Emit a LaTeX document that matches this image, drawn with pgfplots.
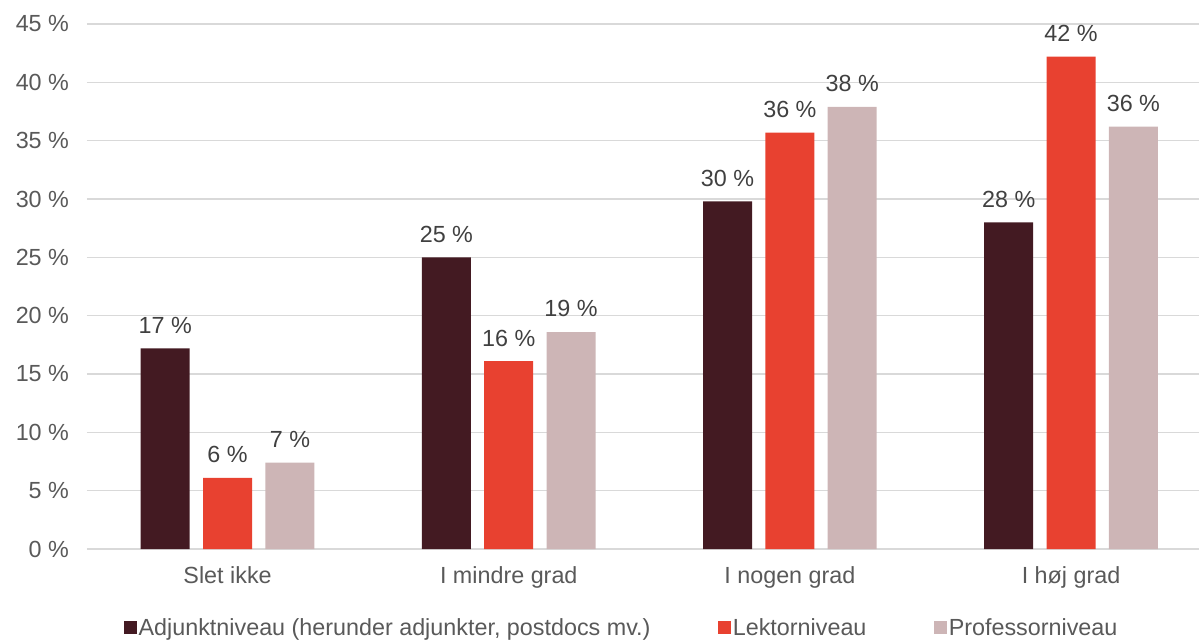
\documentclass[border=0pt]{standalone}
\usepackage{pgfplots}
\pgfplotsset{compat=1.18}
\usepackage{fontspec}
\setmainfont{Liberation Sans}
\definecolor{adjunkt}{HTML}{431A22}
\definecolor{lektor}{HTML}{E84130}
\definecolor{professor}{HTML}{CDB5B6}
\definecolor{gridgrey}{HTML}{D9D9D9}
\definecolor{ticktext}{HTML}{595959}
\definecolor{labeltext}{HTML}{404040}
\begin{document}
\begin{tikzpicture}
\begin{axis}[
    scale only axis,
    width=834pt, height=393.75pt,
    ymin=0, ymax=45,
    xmin=-0.5, xmax=3.455,
    ybar=10pt,
    bar width=36.75pt,
    axis line style={draw=none},
    major tick length=0pt,
    ymajorgrids,
    grid style={color=gridgrey, line width=1.1pt},
    ytick={0,5,...,45},
    yticklabels={0 \%,5 \%,10 \%,15 \%,20 \%,25 \%,30 \%,35 \%,40 \%,45 \%},
    xtick={0,1,2,3},
    xticklabels={Slet ikke, I mindre grad, I nogen grad, I høj grad},
    ticklabel style={font=\fontsize{17.5}{21}\selectfont, text=ticktext},
    yticklabel style={xshift=-10pt},
    xticklabel style={yshift=-10pt},
    /pgf/number format/assume math mode=true,
    nodes near coords={\pgfmathprintnumber[fixed,precision=0]{\pgfplotspointmeta} \%},
    every node near coord/.append style={font=\fontsize{17.5}{21}\selectfont, text=labeltext, inner sep=0pt, yshift=11pt},
    legend columns=3,
    legend style={at={(0.4807,-0.150)}, anchor=center, draw=none, fill=none,
        font=\fontsize{17.5}{21}\selectfont, text=ticktext,
        nodes={inner sep=1.5pt},
        /tikz/every even column/.append style={column sep=49pt}},
    legend image code/.code={\fill[#1] (0pt,-4.875pt) rectangle (9.75pt,4.875pt);},
]
\addplot[fill=adjunkt, draw=none] coordinates {(0,17.2) (1,25.0) (2,29.8) (3,28.0)};
\addplot[fill=lektor, draw=none] coordinates {(0,6.1) (1,16.1) (2,35.7) (3,42.2)};
\addplot[fill=professor, draw=none] coordinates {(0,7.4) (1,18.6) (2,37.9) (3,36.2)};
\legend{{Adjunktniveau (herunder adjunkter, postdocs mv.)}, Lektorniveau, Professorniveau}
\end{axis}
\pgfresetboundingbox
\path[use as bounding box] (-65.25pt,-68.25pt) rectangle (834pt,411.75pt);
\end{tikzpicture}
\end{document}
